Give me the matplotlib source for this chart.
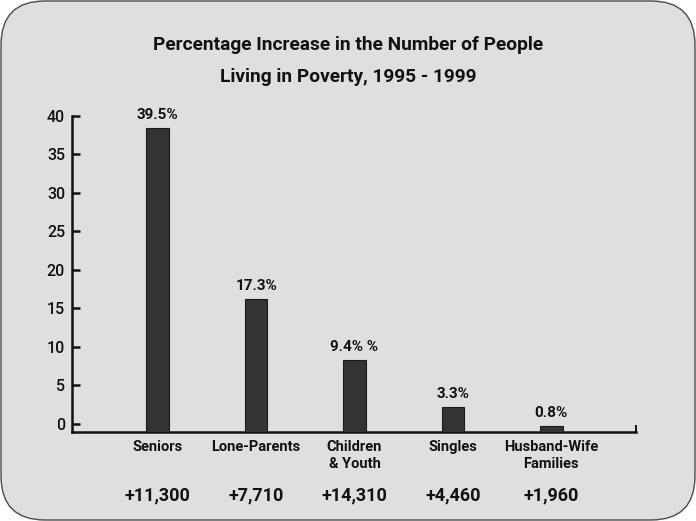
# Percentage increase in the number of people living in poverty, 1995 - 1999

import matplotlib
matplotlib.use("Agg")
import matplotlib.pyplot as plt
from matplotlib.patches import FancyBboxPatch
from matplotlib import font_manager
import numpy as np

# ----------------------------------------------------------------------------
#  DATA
# ----------------------------------------------------------------------------
categories  = ["Seniors", "Lone-Parents", "Children\n& Youth", "Singles", "Husband-Wife\nFamilies"]
pct_values  = [39.5, 17.3, 9.4, 3.3, 0.8]
pct_labels  = ["39.5%", "17.3%", "9.4% %", "3.3%", "0.8%"]
count_labels = ["+11,300", "+7,710", "+14,310", "+4,460", "+1,960"]
y_ticks     = [0, 5, 10, 15, 20, 25, 30, 35, 40]
title_lines = ["Percentage Increase in the Number of People",
               "Living in Poverty, 1995 - 1999"]

# ----------------------------------------------------------------------------
#  STYLE
# ----------------------------------------------------------------------------
installed = {f.name for f in font_manager.fontManager.ttflist}
font_main = [f for f in ["Liberation Sans Narrow", "DejaVu Sans Condensed", "Roboto"]
             if f in installed] + ["DejaVu Sans"]
plt.rcParams["font.family"] = font_main
bg_color  = "#dfdfdf"
bar_color = "#333333"
ink       = "#111111"

W, H, DPI = 696, 521, 100
fig = plt.figure(figsize=(W / DPI, H / DPI), dpi=DPI)
fig.patch.set_facecolor("white")

# rounded panel, drawn in inches so the corners stay circular
panel = FancyBboxPatch((0.01, 0.01), W / DPI - 0.02, H / DPI - 0.02,
                       boxstyle="round,pad=0,rounding_size=0.44",
                       transform=fig.dpi_scale_trans,
                       facecolor=bg_color, edgecolor="#4a4a4a", linewidth=1.0,
                       zorder=-5)
fig.patches.append(panel)

# axes placed to match reference pixels
left, right = 72 / W, 636 / W
bottom, top = 1 - 432 / H, 1 - 116 / H
ax = fig.add_axes([left, bottom, right - left, top - bottom])
ax.set_facecolor("none")

y_min = -1.04
x = np.arange(len(categories))
ax.bar(x, pct_values, bottom=y_min, width=0.23, color=bar_color,
       edgecolor="#1a1a1a", linewidth=0.8, zorder=3)

ax.set_xlim(-0.87, 4.86)
ax.set_ylim(y_min, 40)

# spines
ax.spines["top"].set_visible(False)
ax.spines["left"].set_linewidth(1.8)
ax.spines["bottom"].set_linewidth(1.8)
ax.spines["right"].set_linewidth(1.4)
ax.spines["right"].set_bounds(y_min, y_min + 0.8)
for s in ax.spines.values():
    s.set_color(ink)

ax.set_yticks(y_ticks)
ax.tick_params(axis="y", direction="in", length=6, width=1.8, pad=5,
               labelsize=11.5, colors=ink)
for t in ax.get_yticklabels():
    t.set_fontweight("medium")
ax.set_xticks([])

# value labels over bars
for xi, v, lab in zip(x, pct_values, pct_labels):
    ax.annotate(lab, (xi, y_min + v), xytext=(0, 4), textcoords="offset points",
                ha="center", va="bottom", fontsize=11, fontweight="bold", color=ink)

# category and count labels below axis
for xi, cat, cnt in zip(x, categories, count_labels):
    ax.annotate(cat, (xi, y_min), xytext=(0, -6), textcoords="offset points",
                ha="center", va="top", fontsize=10.5, fontweight="bold",
                color=ink, linespacing=1.25)
    ax.annotate(cnt, (xi, y_min), xytext=(0, -39), textcoords="offset points",
                ha="center", va="top", fontsize=13, fontweight="bold", color=ink)

# title
fig.text(0.5, 1 - 45 / H, title_lines[0], ha="center", va="center",
         fontsize=13.8, fontweight="bold", color=ink)
fig.text(0.5, 1 - 77 / H, title_lines[1], ha="center", va="center",
         fontsize=13.8, fontweight="bold", color=ink)

fig.savefig("out.png", dpi=DPI, facecolor=fig.get_facecolor())
